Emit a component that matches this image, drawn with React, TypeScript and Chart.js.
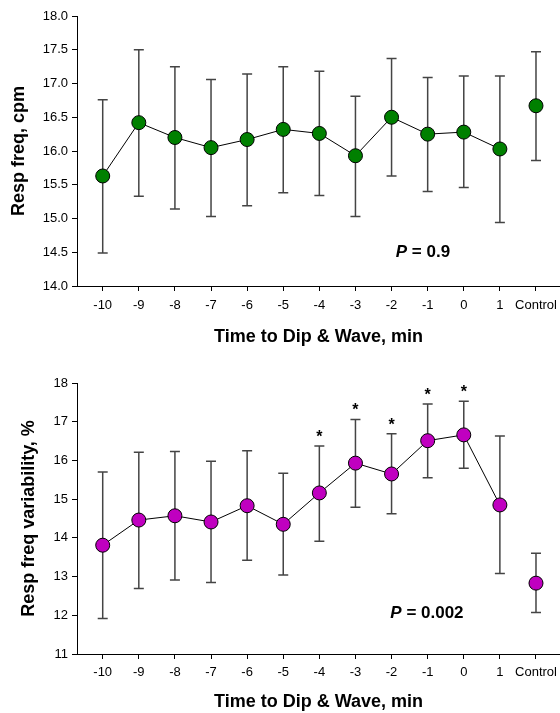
import { useEffect, useRef } from 'react';
import { Chart, registerables } from 'chart.js';

Chart.register(...registerables);
Chart.defaults.font.family = "'Liberation Sans', Arial, sans-serif";
Chart.defaults.color = '#000';

const categories = ['-10', '-9', '-8', '-7', '-6', '-5', '-4', '-3', '-2', '-1', '0', '1', 'Control'];

const freqMean = [15.63, 16.42, 16.2, 16.05, 16.17, 16.32, 16.26, 15.93, 16.5, 16.25, 16.28, 16.03, 16.67];
const freqUpper = [16.76, 17.5, 17.25, 17.06, 17.14, 17.25, 17.18, 16.81, 17.37, 17.09, 17.11, 17.11, 17.47];
const freqLower = [14.49, 15.33, 15.14, 15.03, 15.19, 15.38, 15.34, 15.03, 15.63, 15.4, 15.46, 14.94, 15.86];

const varMean = [13.81, 14.46, 14.57, 14.41, 14.83, 14.35, 15.16, 15.93, 15.65, 16.51, 16.66, 14.85, 12.83];
const varUpper = [15.7, 16.21, 16.23, 15.98, 16.25, 15.67, 16.37, 17.06, 16.69, 17.46, 17.53, 16.63, 13.6];
const varLower = [11.92, 12.69, 12.91, 12.85, 13.42, 13.04, 13.91, 14.79, 14.62, 15.55, 15.8, 13.08, 12.07];
const varSignificant = [6, 7, 8, 9, 10];

const freqTitle = 'Resp freq, cpm';
const varTitle = 'Resp freq variability, %';
const xTitle = 'Time to Dip & Wave, min';
const freqP = '0.9';
const varP = '0.002';

interface Spec {
  mean: number[];
  upper: number[];
  lower: number[];
  sig: number[];
  color: string;
  yMin: number;
  yMax: number;
  yStep: number;
  decimals: number;
  yTitle: string;
  yTitleSize: number;
  yTitlePad: number;
  padTop: number;
  xHeight: number;
  xTickPad: number;
  xTitlePad: number;
  pText: string;
  pPos: { x: number; y: number };
}

function buildChart(canvas: HTMLCanvasElement, s: Spec) {
  const n = categories.length;
  const mainPts = s.mean.slice(0, n - 1).map((v, i) => ({ x: i, y: v }));
  const ctrlPts = [{ x: n - 1, y: s.mean[n - 1] }];

  const overlay = {
    id: 'overlay',
    beforeDatasetsDraw(chart: any) {
      const ctx = chart.ctx;
      const xs = chart.scales.x;
      const ys = chart.scales.y;
      ctx.save();
      ctx.strokeStyle = '#444';
      ctx.lineWidth = 1.5;
      for (let i = 0; i < n; i++) {
        const px = xs.getPixelForValue(i);
        const pt = ys.getPixelForValue(s.upper[i]);
        const pb = ys.getPixelForValue(s.lower[i]);
        ctx.beginPath();
        ctx.moveTo(px, pt);
        ctx.lineTo(px, pb);
        ctx.moveTo(px - 5, pt);
        ctx.lineTo(px + 5, pt);
        ctx.moveTo(px - 5, pb);
        ctx.lineTo(px + 5, pb);
        ctx.stroke();
      }
      ctx.restore();
    },
    afterDatasetsDraw(chart: any) {
      const ctx = chart.ctx;
      const xs = chart.scales.x;
      const ys = chart.scales.y;
      ctx.save();
      ctx.fillStyle = '#000';
      ctx.textAlign = 'center';
      ctx.textBaseline = 'alphabetic';
      ctx.font = "bold 16px 'Liberation Sans', Arial, sans-serif";
      s.sig.forEach((i) => {
        const px = xs.getPixelForValue(i);
        const pt = ys.getPixelForValue(s.upper[i]);
        ctx.fillText('*', px, pt - 4);
      });
      // P value
      const cx = xs.getPixelForValue(s.pPos.x);
      const cy = ys.getPixelForValue(s.pPos.y);
      const fItalic = "italic bold 17px 'Liberation Sans', Arial, sans-serif";
      const fBold = "bold 17px 'Liberation Sans', Arial, sans-serif";
      const rest = ' = ' + s.pText;
      ctx.font = fItalic;
      const w1 = ctx.measureText('P').width;
      ctx.font = fBold;
      const w2 = ctx.measureText(rest).width;
      const start = cx - (w1 + w2) / 2;
      ctx.textAlign = 'left';
      ctx.textBaseline = 'middle';
      ctx.font = fItalic;
      ctx.fillText('P', start, cy);
      ctx.font = fBold;
      ctx.fillText(rest, start + w1, cy);
      ctx.restore();
    },
  };

  const pointStyle = {
    pointRadius: 7,
    pointHoverRadius: 7,
    pointBackgroundColor: s.color,
    pointBorderColor: '#000',
    pointBorderWidth: 1,
  };

  return new Chart(canvas, {
    type: 'scatter',
    data: {
      datasets: [
        {
          data: mainPts,
          showLine: true,
          borderColor: '#000',
          borderWidth: 1,
          clip: false as any,
          ...pointStyle,
        },
        {
          data: ctrlPts,
          showLine: false,
          clip: false as any,
          ...pointStyle,
        },
      ],
    },
    options: {
      animation: false,
      responsive: true,
      maintainAspectRatio: false,
      layout: { autoPadding: false, padding: { top: s.padTop, left: 0, right: 0, bottom: 0 } },
      plugins: { legend: { display: false }, tooltip: { enabled: false } },
      scales: {
        x: {
          type: 'linear',
          min: -0.712,
          max: 12.665,
          afterBuildTicks: (sc: any) => {
            sc.ticks = categories.map((_, i) => ({ value: i }));
          },
          afterFit: (sc: any) => {
            sc.height = s.xHeight;
            sc.paddingLeft = 0;
            sc.paddingRight = 0;
          },
          ticks: {
            autoSkip: false,
            maxRotation: 0,
            padding: s.xTickPad,
            color: '#000',
            font: { size: 13 },
            callback: (v: any) => categories[Math.round(Number(v))],
          },
          grid: { drawOnChartArea: false, drawTicks: true, tickLength: 5, color: '#000' },
          border: { display: true, color: '#000', width: 1 },
          title: {
            display: true,
            text: xTitle,
            color: '#000',
            font: { size: 18, weight: 'bold' },
            padding: { top: 0, bottom: s.xTitlePad },
          },
        },
        y: {
          type: 'linear',
          min: s.yMin,
          max: s.yMax,
          afterFit: (sc: any) => {
            sc.width = 77;
          },
          ticks: {
            stepSize: s.yStep,
            padding: 4,
            color: '#000',
            font: { size: 13 },
            callback: (v: any) => Number(v).toFixed(s.decimals),
          },
          grid: { drawOnChartArea: false, drawTicks: true, tickLength: 5, color: '#000' },
          border: { display: true, color: '#000', width: 1 },
          title: {
            display: true,
            text: s.yTitle,
            color: '#000',
            font: { size: s.yTitleSize, weight: 'bold' },
            padding: { top: s.yTitlePad, bottom: 0 },
          },
        },
      },
    } as any,
    plugins: [overlay],
  });
}

const topSpec: Spec = {
  mean: freqMean,
  upper: freqUpper,
  lower: freqLower,
  sig: [],
  color: '#008000',
  yMin: 14,
  yMax: 18,
  yStep: 0.5,
  decimals: 1,
  yTitle: freqTitle,
  yTitleSize: 18,
  yTitlePad: 8,
  padTop: 16,
  xHeight: 64,
  xTickPad: 7,
  xTitlePad: 2,
  pText: freqP,
  pPos: { x: 8.87, y: 14.5 },
};

const bottomSpec: Spec = {
  mean: varMean,
  upper: varUpper,
  lower: varLower,
  sig: varSignificant,
  color: '#c000c0',
  yMin: 11,
  yMax: 18,
  yStep: 1,
  decimals: 0,
  yTitle: varTitle,
  yTitleSize: 18,
  yTitlePad: 18,
  padTop: 33,
  xHeight: 59,
  xTickPad: 6,
  xTitlePad: 0,
  pText: varP,
  pPos: { x: 8.98, y: 12.05 },
};

function Panel({ spec, height }: { spec: Spec; height: number }) {
  const ref = useRef<HTMLCanvasElement | null>(null);
  useEffect(() => {
    if (!ref.current) return;
    const chart = buildChart(ref.current, spec);
    return () => chart.destroy();
  }, [spec]);
  return (
    <div style={{ position: 'relative', width: 560, height }}>
      <canvas ref={ref} />
    </div>
  );
}

export default function App() {
  return (
    <div style={{ position: 'absolute', left: 0, top: 0, width: 560, height: 713, background: '#fff' }}>
      <Panel spec={topSpec} height={350} />
      <Panel spec={bottomSpec} height={363} />
    </div>
  );
}
